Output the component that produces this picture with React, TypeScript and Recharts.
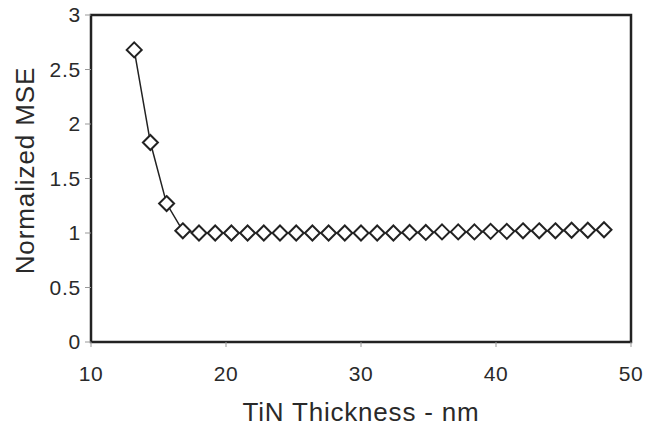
import React from 'react';
import { LineChart, Line, XAxis, YAxis, ReferenceArea, Label } from 'recharts';

const thickness = [
  13.2, 14.4, 15.6, 16.8, 18.0, 19.2, 20.4, 21.6, 22.8, 24.0,
  25.2, 26.4, 27.6, 28.8, 30.0, 31.2, 32.4, 33.6, 34.8, 36.0,
  37.2, 38.4, 39.6, 40.8, 42.0, 43.2, 44.4, 45.6, 46.8, 48.0,
];
const mse = [
  2.68, 1.83, 1.27, 1.02, 1.0, 1.0, 1.0, 1.0, 1.0, 1.0,
  1.0, 1.0, 1.0, 1.0, 1.0, 1.0, 1.0, 1.005, 1.005, 1.01,
  1.01, 1.01, 1.015, 1.015, 1.02, 1.02, 1.02, 1.025, 1.025, 1.03,
];
const xTicks = [10, 20, 30, 40, 50];
const yTicks = [0, 0.5, 1, 1.5, 2, 2.5, 3];

const chartData = thickness.map((t, i) => ({ t, v: mse[i] }));

const ink = '#222';
const textInk = '#2a2a2a';
const font = 'Liberation Sans, Arial, sans-serif';

const Diamond = (props: any) => {
  const { cx, cy } = props;
  if (cx == null || cy == null) return null;
  return (
    <path
      d={`M${cx},${cy - 7.5}L${cx + 7.5},${cy}L${cx},${cy + 7.5}L${cx - 7.5},${cy}Z`}
      fill="#fff"
      stroke={ink}
      strokeWidth={2}
    />
  );
};

const YTitle = (props: any) => {
  const { viewBox } = props;
  const x = viewBox.x + 34;
  const y = viewBox.y + viewBox.height / 2 - 8;
  return (
    <text
      x={x}
      y={y}
      transform={`rotate(-90, ${x}, ${y})`}
      textAnchor="middle"
      fill={textInk}
      fontSize={26}
      fontFamily={font}
      letterSpacing={0.9}
    >
      Normalized MSE
    </text>
  );
};

const App = () => {
  return (
    <div style={{ position: 'absolute', left: 0, top: 0, background: '#fff' }}>
      <LineChart
        width={653}
        height={428}
        data={chartData}
        margin={{ top: 15, right: 22, left: 0, bottom: 0 }}
      >
        <XAxis
          dataKey="t"
          type="number"
          domain={[10, 50]}
          ticks={xTicks}
          height={86}
          axisLine={false}
          tickLine={{ stroke: '#999' }}
          tickSize={5}
          tick={{ fill: textInk, fontSize: 21, fontFamily: font, letterSpacing: 0.5 }}
          tickMargin={19}
        >
          <Label
            value="TiN Thickness - nm"
            position="insideBottom"
            offset={7}
            style={{ fill: textInk, fontSize: 26, fontFamily: font, letterSpacing: 0.8 }}
          />
        </XAxis>
        <YAxis
          type="number"
          domain={[0, 3]}
          ticks={yTicks}
          width={91}
          axisLine={false}
          tickLine={{ stroke: '#999' }}
          tickSize={6}
          tick={{ fill: textInk, fontSize: 21, fontFamily: font, letterSpacing: 0.8 }}
          tickMargin={4}
        >
          <Label content={<YTitle />} />
        </YAxis>
        <ReferenceArea
          x1={10}
          x2={50}
          y1={0}
          y2={3}
          fill="none"
          stroke={ink}
          strokeWidth={2.5}
        />
        <Line
          type="linear"
          dataKey="v"
          stroke={ink}
          strokeWidth={1.5}
          dot={<Diamond />}
          activeDot={false}
          isAnimationActive={false}
        />
      </LineChart>
    </div>
  );
};

export default App;
